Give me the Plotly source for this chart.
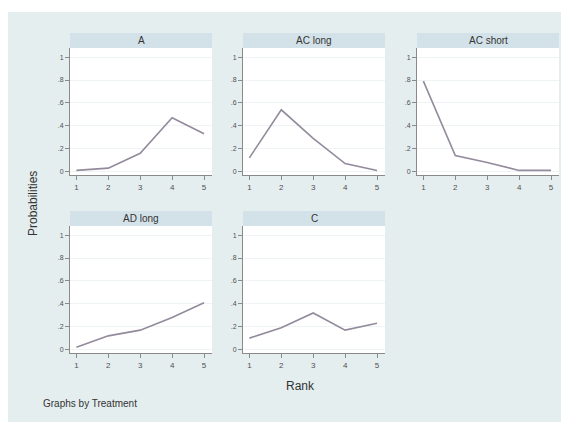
import plotly.graph_objects as go

# page is 569x422, but the html body has an 8px margin
OFF = 8
W, H = 569 - OFF, 422 - OFF

# ---- data ----
ranks = [1, 2, 3, 4, 5]
treatments = ["A", "AC long", "AC short", "AD long", "C"]
prob_A = [0.01, 0.03, 0.16, 0.47, 0.33]
prob_AC_long = [0.12, 0.54, 0.29, 0.07, 0.01]
prob_AC_short = [0.79, 0.14, 0.08, 0.01, 0.01]
prob_AD_long = [0.02, 0.12, 0.17, 0.28, 0.41]
prob_C = [0.10, 0.19, 0.32, 0.17, 0.23]
y_ticks = [0, 0.2, 0.4, 0.6, 0.8, 1]
y_ticklabels = ["0", ".2", ".4", ".6", ".8", "1"]
x_ticklabels = ["1", "2", "3", "4", "5"]

series = [prob_A, prob_AC_long, prob_AC_short, prob_AD_long, prob_C]

# ---- layout geometry (page pixels) ----
panels = [(70, 48), (243, 48), (417, 48), (70, 226), (243, 226)]
PW, PH = 142, 127
BAR_H = 15

BG = "#E4EEEF"
BAR = "#D3E2E8"
LINE = "#938a9c"
AXC = "#8a8a8a"
TXT = "#505050"
FONT = "Liberation Sans, Arial, sans-serif"

def fx(px):
    return (px - OFF) / W

def fy(py):
    return 1 - (py - OFF) / H

fig = go.Figure()
shapes = [dict(type="rect", xref="paper", yref="paper", x0=fx(8), x1=fx(565),
               y0=fy(422), y1=fy(12), fillcolor=BG, line=dict(width=0), layer="below")]
annotations = []
layout = {}

for i, (name, vals) in enumerate(zip(treatments, series)):
    left, top = panels[i]
    n = "" if i == 0 else str(i + 1)
    xa, ya = "x" + n, "y" + n
    fig.add_trace(go.Scatter(x=ranks, y=vals, mode="lines", xaxis=xa, yaxis=ya,
                             line=dict(color=LINE, width=1.6), showlegend=False,
                             hoverinfo="skip"))
    layout["xaxis" + n] = dict(domain=[fx(left), fx(left + PW)], anchor=ya,
                               range=[0.8, 5.25], tickvals=ranks, ticktext=x_ticklabels,
                               showgrid=False, zeroline=False, showline=True,
                               linecolor=AXC, linewidth=1, ticks="outside", ticklen=4,
                               tickcolor=AXC, tickfont=dict(size=8, color=TXT, family=FONT),
                               mirror=False)
    layout["yaxis" + n] = dict(domain=[fy(top + PH), fy(top)], anchor=xa,
                               range=[-0.03, 1.08], tickvals=y_ticks, ticktext=y_ticklabels,
                               showgrid=True, gridcolor="#EEF4F5", gridwidth=1,
                               zeroline=False, showline=True, linecolor=AXC, linewidth=1,
                               ticks="outside", ticklen=4, tickcolor=AXC,
                               tickfont=dict(size=7, color=TXT, family=FONT))
    # white plot region
    shapes.append(dict(type="rect", xref="paper", yref="paper", x0=fx(left), x1=fx(left + PW),
                       y0=fy(top + PH), y1=fy(top), fillcolor="white",
                       line=dict(width=0), layer="below"))
    # title bar
    shapes.append(dict(type="rect", xref="paper", yref="paper", x0=fx(left), x1=fx(left + PW),
                       y0=fy(top), y1=fy(top - BAR_H), fillcolor=BAR,
                       line=dict(width=0), layer="below"))
    annotations.append(dict(text=name, xref="paper", yref="paper", x=fx(left + PW / 2),
                            y=fy(top - BAR_H / 2), xanchor="center", yanchor="middle",
                            showarrow=False, font=dict(size=10, color="#333", family=FONT)))

annotations.append(dict(text="Probabilities", xref="paper", yref="paper", x=fx(33), y=fy(204),
                        xanchor="center", yanchor="middle", textangle=-90, showarrow=False,
                        font=dict(size=12, color="#333", family=FONT)))
annotations.append(dict(text="Rank", xref="paper", yref="paper", x=fx(300), y=fy(386),
                        xanchor="center", yanchor="middle", showarrow=False,
                        font=dict(size=12, color="#333", family=FONT)))
annotations.append(dict(text="Graphs by Treatment", xref="paper", yref="paper", x=fx(41),
                        y=fy(403), xanchor="left", yanchor="middle", showarrow=False,
                        font=dict(size=10, color="#333", family=FONT)))

fig.update_layout(width=W, height=H, margin=dict(l=0, r=0, t=0, b=0),
                  paper_bgcolor="white", plot_bgcolor="rgba(0,0,0,0)",
                  shapes=shapes, annotations=annotations, showlegend=False,
                  font=dict(family=FONT), **layout)

fig.write_html("out.html")
